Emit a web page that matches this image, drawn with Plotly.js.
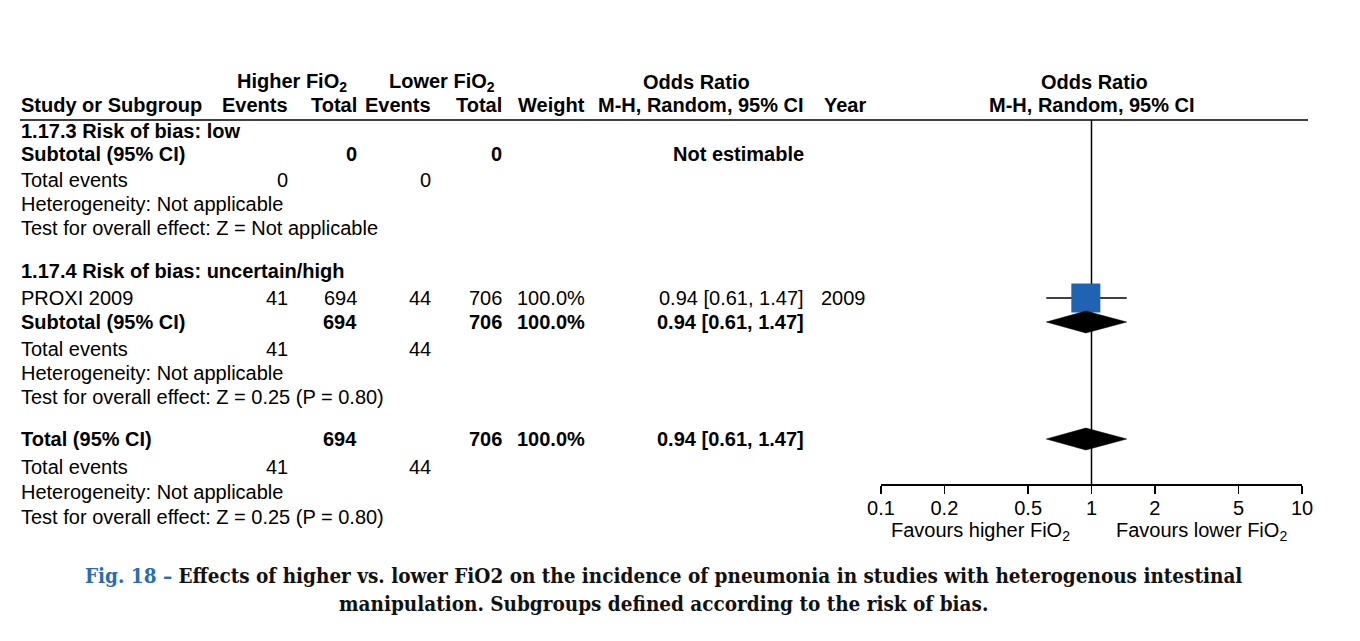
<!DOCTYPE html>
<html>
<head>
<meta charset="utf-8">
<script src="https://cdn.plot.ly/plotly-3.0.1.min.js"></script>
<style>html,body{margin:0;padding:0;background:#fff;} #chart{width:1360px;height:641px;}</style>
</head>
<body>
<div id="chart"></div>
<script>
// ---------------- DATA ----------------
const subgroupLabels = ['1.17.3 Risk of bias: low', '1.17.4 Risk of bias: uncertain/high'];
const studyNames = ['PROXI 2009'];
const studyYears = ['2009'];
const higherEvents = [41];
const higherTotals = [694];
const lowerEvents = [44];
const lowerTotals = [706];
const weights = [100.0];
const oddsRatios = [0.94];
const ciLower = [0.61];
const ciUpper = [1.47];
// subgroup summaries: [low, uncertain/high]
const subHigherTotals = [0, 694];
const subLowerTotals = [0, 706];
const subHigherEvents = [0, 41];
const subLowerEvents = [0, 44];
const subWeights = [null, 100.0];
const subOR = [null, 0.94];
const subLo = [null, 0.61];
const subHi = [null, 1.47];
const subHetero = ['Not applicable', 'Not applicable'];
const subTest = ['Z = Not applicable', 'Z = 0.25 (P = 0.80)'];
// overall
const totalHigherTotal = 694, totalLowerTotal = 706;
const totalHigherEvents = 41, totalLowerEvents = 44;
const totalWeight = 100.0;
const totalOR = 0.94, totalLo = 0.61, totalHi = 1.47;
const totalHetero = 'Not applicable';
const totalTest = 'Z = 0.25 (P = 0.80)';
const tickVals = [0.1, 0.2, 0.5, 1, 2, 5, 10];
const tickLabels = ['0.1', '0.2', '0.5', '1', '2', '5', '10'];

// ---------------- LAYOUT HELPERS ----------------
const W = 1360, H = 641;
const px = x => x / W;
const py = y => 1 - y / H;
const FONT = 'Liberation Sans, Arial, Helvetica, sans-serif';
const FS = 20;
// row vertical positions (pixels)
const rowY = {
  hdr1: 82, hdr2: 105,
  g1: 131, g1sub: 154, g1ev: 180, g1het: 204, g1test: 228,
  g2: 271, g2study: 298, g2sub: 322, g2ev: 349, g2het: 373, g2test: 397,
  tot: 439, totev: 467, tothet: 492, tottest: 517
};
// column x positions (pixels) and anchors
const col = {
  study: [21, 'left'], he: [288, 'right'], ht: [357, 'right'], le: [431, 'right'],
  lt: [502, 'right'], w: [585, 'right'], or: [804, 'right'], year: [866, 'right']
};
const plotX0 = 881, plotX1 = 1302, plotTop = 120, plotBottom = 484;

const annotations = [];
function txt(text, x, y, anchor, bold, extra) {
  annotations.push(Object.assign({
    text: bold ? '<b>' + text + '</b>' : text,
    xref: 'paper', yref: 'paper', x: px(x), y: py(y),
    xanchor: anchor, yanchor: 'middle', showarrow: false,
    borderpad: 0, borderwidth: 0,
    font: {family: FONT, size: FS, color: '#000'}
  }, extra || {}));
}
function cell(c, text, y, bold) { txt(text, col[c][0], y, col[c][1], bold); }
const fmtCI = (o, l, h) => o.toFixed(2) + ' [' + l.toFixed(2) + ', ' + h.toFixed(2) + ']';

// headers
txt('Higher FiO<sub>2</sub>', 292, rowY.hdr1, 'center', true);
txt('Lower FiO<sub>2</sub>', 442, rowY.hdr1, 'center', true);
txt('Odds Ratio', 696, rowY.hdr1, 'center', true);
txt('Odds Ratio', 1094, rowY.hdr1, 'center', true);
cell('study', 'Study or Subgroup', rowY.hdr2, true);
cell('he', 'Events', rowY.hdr2, true);
cell('ht', 'Total', rowY.hdr2, true);
cell('le', 'Events', rowY.hdr2, true);
cell('lt', 'Total', rowY.hdr2, true);
cell('w', 'Weight', rowY.hdr2, true);
cell('or', 'M-H, Random, 95% CI', rowY.hdr2, true);
txt('Year', 824, rowY.hdr2, 'left', true);
txt('M-H, Random, 95% CI', 1092, rowY.hdr2, 'center', true);

// subgroup 1
cell('study', subgroupLabels[0], rowY.g1, true);
cell('study', 'Subtotal (95% CI)', rowY.g1sub, true);
cell('ht', String(subHigherTotals[0]), rowY.g1sub, true);
cell('lt', String(subLowerTotals[0]), rowY.g1sub, true);
cell('or', 'Not estimable', rowY.g1sub, true);
cell('study', 'Total events', rowY.g1ev);
cell('he', String(subHigherEvents[0]), rowY.g1ev);
cell('le', String(subLowerEvents[0]), rowY.g1ev);
cell('study', 'Heterogeneity: ' + subHetero[0], rowY.g1het);
cell('study', 'Test for overall effect: ' + subTest[0], rowY.g1test);

// subgroup 2
cell('study', subgroupLabels[1], rowY.g2, true);
cell('study', studyNames[0], rowY.g2study);
cell('he', String(higherEvents[0]), rowY.g2study);
cell('ht', String(higherTotals[0]), rowY.g2study);
cell('le', String(lowerEvents[0]), rowY.g2study);
cell('lt', String(lowerTotals[0]), rowY.g2study);
cell('w', weights[0].toFixed(1) + '%', rowY.g2study);
cell('or', fmtCI(oddsRatios[0], ciLower[0], ciUpper[0]), rowY.g2study);
cell('year', studyYears[0], rowY.g2study);
cell('study', 'Subtotal (95% CI)', rowY.g2sub, true);
cell('ht', String(subHigherTotals[1]), rowY.g2sub, true);
cell('lt', String(subLowerTotals[1]), rowY.g2sub, true);
cell('w', subWeights[1].toFixed(1) + '%', rowY.g2sub, true);
cell('or', fmtCI(subOR[1], subLo[1], subHi[1]), rowY.g2sub, true);
cell('study', 'Total events', rowY.g2ev);
cell('he', String(subHigherEvents[1]), rowY.g2ev);
cell('le', String(subLowerEvents[1]), rowY.g2ev);
cell('study', 'Heterogeneity: ' + subHetero[1], rowY.g2het);
cell('study', 'Test for overall effect: ' + subTest[1], rowY.g2test);

// total
cell('study', 'Total (95% CI)', rowY.tot, true);
cell('ht', String(totalHigherTotal), rowY.tot, true);
cell('lt', String(totalLowerTotal), rowY.tot, true);
cell('w', totalWeight.toFixed(1) + '%', rowY.tot, true);
cell('or', fmtCI(totalOR, totalLo, totalHi), rowY.tot, true);
cell('study', 'Total events', rowY.totev);
cell('he', String(totalHigherEvents), rowY.totev);
cell('le', String(totalLowerEvents), rowY.totev);
cell('study', 'Heterogeneity: ' + totalHetero, rowY.tothet);
cell('study', 'Test for overall effect: ' + totalTest, rowY.tottest);

// favours labels
txt('Favours higher FiO<sub>2</sub>', 980, 531, 'center', false);
txt('Favours lower FiO<sub>2</sub>', 1201, 531, 'center', false);

// caption
const CAP = 'DejaVu Serif Condensed, DejaVu Serif, serif';
txt('<b><span style="color:#2a6cb4">Fig. 18 –</span> Effects of higher vs. lower FiO2 on the incidence of pneumonia in studies with heterogenous intestinal</b>',
    663, 576, 'center', false, {font: {family: CAP, size: 20.5, color: '#111'}});
txt('<b>manipulation. Subgroups defined according to the risk of bias.</b>',
    663, 604, 'center', false, {font: {family: CAP, size: 20.5, color: '#111'}});

// ---------------- TRACES ----------------
const traces = [];
// study CI lines
studyNames.forEach((n, i) => {
  traces.push({x: [ciLower[i], ciUpper[i]], y: [rowY.g2study, rowY.g2study], type: 'scatter', mode: 'lines',
    line: {color: '#000', width: 1.5}, hoverinfo: 'skip', showlegend: false});
});
// study squares
traces.push({x: oddsRatios, y: studyNames.map(() => rowY.g2study), type: 'scatter', mode: 'markers',
  marker: {symbol: 'square', size: 29, color: '#1f63b2', line: {width: 0}}, showlegend: false});
// diamonds
function diamond(o, l, h, y) {
  const hh = 11;
  traces.push({x: [l, o, h, o, l], y: [y, y - hh, y, y + hh, y], type: 'scatter', mode: 'lines',
    fill: 'toself', fillcolor: '#000', line: {color: '#000', width: 0.5}, hoverinfo: 'skip', showlegend: false});
}
diamond(subOR[1], subLo[1], subHi[1], rowY.g2sub);
diamond(totalOR, totalLo, totalHi, rowY.tot);

const layout = {
  width: W, height: H,
  margin: {l: 0, r: 0, t: 0, b: 0},
  paper_bgcolor: '#fff', plot_bgcolor: 'rgba(0,0,0,0)',
  showlegend: false,
  xaxis: {
    type: 'log', range: [-1, 1], domain: [px(plotX0), px(plotX1)],
    tickvals: tickVals, ticktext: tickLabels,
    showline: true, linecolor: '#000', linewidth: 1.5,
    ticks: 'outside', ticklen: 8, tickwidth: 1.5, tickcolor: '#000',
    ticklabelstandoff: -3,
    showgrid: false, zeroline: false,
    tickfont: {family: FONT, size: FS, color: '#000'},
    fixedrange: true
  },
  yaxis: {
    range: [plotBottom, plotTop], domain: [py(plotBottom), py(plotTop)],
    visible: false, showgrid: false, zeroline: false, fixedrange: true
  },
  shapes: [
    {type: 'line', xref: 'x', yref: 'paper', x0: 1, x1: 1, y0: py(plotBottom), y1: py(plotTop),
     line: {color: '#000', width: 1.5}, layer: 'below'},
    {type: 'line', xref: 'paper', yref: 'paper', x0: px(20), x1: px(1308), y0: py(plotTop), y1: py(plotTop),
     line: {color: '#000', width: 1.5}}
  ],
  annotations: annotations
};
Plotly.newPlot('chart', traces, layout, {displayModeBar: false, staticPlot: true});
</script>
</body>
</html>
